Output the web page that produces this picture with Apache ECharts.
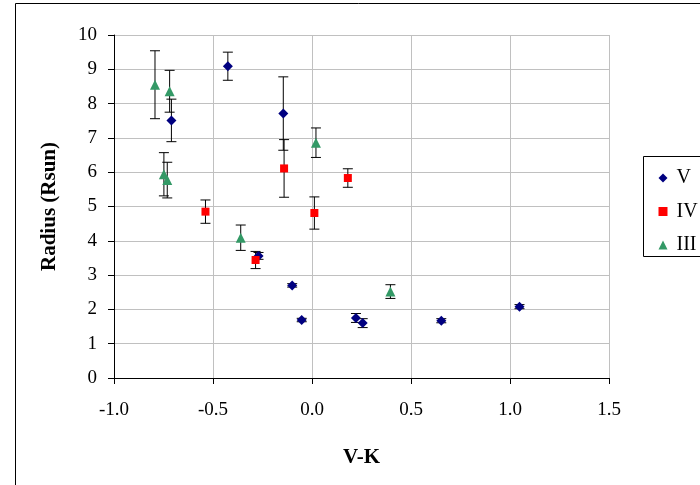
<!DOCTYPE html>
<html>
<head>
<meta charset="utf-8">
<script src="https://cdn.jsdelivr.net/npm/echarts@6/dist/echarts.min.js"></script>
<style>html,body{margin:0;padding:0;background:#fff}#c{width:700px;height:485px}</style>
</head>
<body>
<div id="c"></div>
<script>
// Class V (diamonds)
const vX   = [-0.71, -0.425, -0.145, -0.27, -0.10, -0.052, 0.222, 0.256, 0.653, 1.048];
const vY   = [7.51, 9.09, 7.71, 3.56, 2.70, 1.69, 1.75, 1.60, 1.67, 2.08];
const vErr = [0.62, 0.41, 1.07, 0.10, 0.05, 0.05, 0.13, 0.13, 0.06, 0.06];
// Class IV (squares)
const ivX   = [-0.538, -0.141, 0.012, 0.181, -0.285];
const ivY   = [4.85, 6.11, 4.81, 5.83, 3.44];
const ivErr = [0.34, 0.84, 0.47, 0.27, 0.25];
// Class III (triangles)
const iiiX   = [-0.793, -0.719, -0.748, -0.731, -0.36, 0.02, 0.396];
const iiiY   = [8.55, 8.36, 5.94, 5.77, 4.09, 6.86, 2.52];
const iiiErr = [0.99, 0.61, 0.63, 0.52, 0.37, 0.43, 0.20];

const seriesNames = ['V', 'IV', 'III'];
const xTicks = [-1.0, -0.5, 0.0, 0.5, 1.0, 1.5];

const FONT = 'Liberation Serif';
const COLORS = ['#000080', '#ff0000', '#339966'];

function pts(xs, ys) { return xs.map((x, i) => [x, ys[i]]); }
function errs(xs, ys, es) { return xs.map((x, i) => [x, ys[i], es[i]]); }

function errRender(params, api) {
  const x = api.value(0), y = api.value(1), e = api.value(2);
  const t = api.coord([x, y + e]);
  const b = api.coord([x, y - e]);
  const w = 5;
  const st = { stroke: '#000', lineWidth: 1 };
  return {
    type: 'group',
    children: [
      { type: 'line', shape: { x1: t[0], y1: t[1], x2: b[0], y2: b[1] }, style: st },
      { type: 'line', shape: { x1: t[0] - w, y1: t[1], x2: t[0] + w, y2: t[1] }, style: st },
      { type: 'line', shape: { x1: b[0] - w, y1: b[1], x2: b[0] + w, y2: b[1] }, style: st }
    ]
  };
}

const chart = echarts.init(document.getElementById('c'), null, { renderer: 'canvas' });
chart.setOption({
  animation: false,
  backgroundColor: '#fff',
  color: COLORS,
  graphic: [
    { type: 'rect', z: -10, shape: { x: 15.5, y: 3.5, width: 720, height: 520 }, style: { fill: '#fff', stroke: '#000', lineWidth: 1 } },
    { type: 'rect', z: 1, shape: { x: 643.5, y: 156.5, width: 100, height: 100 }, style: { fill: '#fff', stroke: '#000', lineWidth: 1 } }
  ],
  grid: { left: 114, right: 91, top: 35, bottom: 107, containLabel: false },
  xAxis: {
    type: 'value', min: -1, max: 1.5, interval: 0.5,
    name: 'V-K', nameLocation: 'middle', nameGap: 69,
    nameTextStyle: { fontFamily: FONT, fontSize: 21, fontWeight: 'bold', color: '#000' },
    axisLine: { onZero: false, lineStyle: { color: '#000', width: 1 } },
    axisTick: { show: true, length: 6, lineStyle: { color: '#000' } },
    axisLabel: { margin: 23, fontFamily: FONT, fontSize: 19, color: '#000', formatter: v => v.toFixed(1) },
    splitLine: { show: true, lineStyle: { color: '#c0c0c0', width: 1 } }
  },
  yAxis: {
    type: 'value', min: 0, max: 10, interval: 1,
    name: 'Radius (Rsun)', nameLocation: 'middle', nameGap: 54,
    nameTextStyle: { fontFamily: FONT, fontSize: 21, fontWeight: 'bold', color: '#000' },
    axisLine: { show: true, onZero: false, lineStyle: { color: '#000', width: 1 } },
    axisTick: { show: true, length: 6, lineStyle: { color: '#000' } },
    axisLabel: { margin: 17, fontFamily: FONT, fontSize: 19, color: '#000' },
    splitLine: { show: true, lineStyle: { color: '#c0c0c0', width: 1 } }
  },
  legend: {
    orient: 'vertical', left: 653.5, top: 163, itemGap: 13.5,
    itemWidth: 9, itemHeight: 9, z: 5,
    textStyle: { fontFamily: FONT, fontSize: 20, color: '#000', padding: [0, 0, 0, 4] },
    data: [
      { name: seriesNames[0], icon: 'diamond', itemStyle: { color: COLORS[0] } },
      { name: seriesNames[1], icon: 'rect', itemStyle: { color: COLORS[1] } },
      { name: seriesNames[2], icon: 'triangle', itemStyle: { color: COLORS[2] } }
    ]
  },
  series: [
    { name: seriesNames[0], type: 'scatter', symbol: 'diamond', symbolSize: 10, itemStyle: { color: COLORS[0], opacity: 1 }, data: pts(vX, vY), z: 3 },
    { name: seriesNames[1], type: 'scatter', symbol: 'rect', symbolSize: 8, itemStyle: { color: COLORS[1], opacity: 1 }, data: pts(ivX, ivY), z: 3 },
    { name: seriesNames[2], type: 'scatter', symbol: 'triangle', symbolSize: 10, itemStyle: { color: COLORS[2], opacity: 1 }, data: pts(iiiX, iiiY), z: 3 },
    { name: seriesNames[0], type: 'custom', renderItem: errRender, itemStyle: { color: COLORS[0] }, data: errs(vX, vY, vErr), z: 2, silent: true },
    { name: seriesNames[1], type: 'custom', renderItem: errRender, itemStyle: { color: COLORS[1] }, data: errs(ivX, ivY, ivErr), z: 2, silent: true },
    { name: seriesNames[2], type: 'custom', renderItem: errRender, itemStyle: { color: COLORS[2] }, data: errs(iiiX, iiiY, iiiErr), z: 2, silent: true }
  ]
});
</script>
</body>
</html>
